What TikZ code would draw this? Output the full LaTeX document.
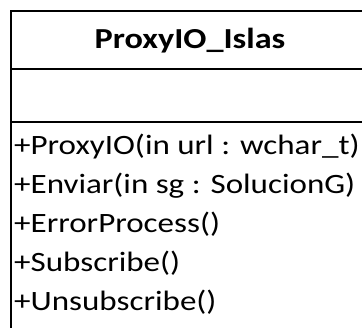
\documentclass[tikz,border=0pt]{standalone}
\usepackage{fontspec}
\setmainfont{Carlito}[FakeStretch=1.18]
\begin{document}
\begin{tikzpicture}[x=1pt,y=1pt,
  frame/.style={draw=black,line width=2.6pt},
  classname/.style={font=\fontsize{29}{33}\selectfont\bfseries,anchor=base,inner sep=0pt},
  member/.style={font=\fontsize{28}{32}\selectfont,anchor=base west,inner sep=0pt}]
\useasboundingbox (0,0) rectangle (362,328);
\clip (0,0) rectangle (362,328);
% class frame and compartment separators
\coordinate (tl) at (11,317);
\coordinate (br) at (374,-12);
\draw[frame] (tl) rectangle (br);
\coordinate (s1l) at (11,259);
\coordinate (s1r) at (374,259);
\coordinate (s2l) at (11,206);
\coordinate (s2r) at (374,206);
\draw[frame] (s1l) -- (s1r);
\draw[frame] (s2l) -- (s2r);
% class name
\node[classname] (name) at (190,279) {ProxyIO\_Islas};
% operations
\node[member] (op1) at (14,173) {+ProxyIO(in url : wchar\_t)};
\node[member] (op2) at (14,134) {+Enviar(in sg : SolucionG)};
\node[member] (op3) at (14,95) {+ErrorProcess()};
\node[member] (op4) at (14,56) {+Subscribe()};
\node[member] (op5) at (14,17) {+Unsubscribe()};
\end{tikzpicture}
\end{document}
